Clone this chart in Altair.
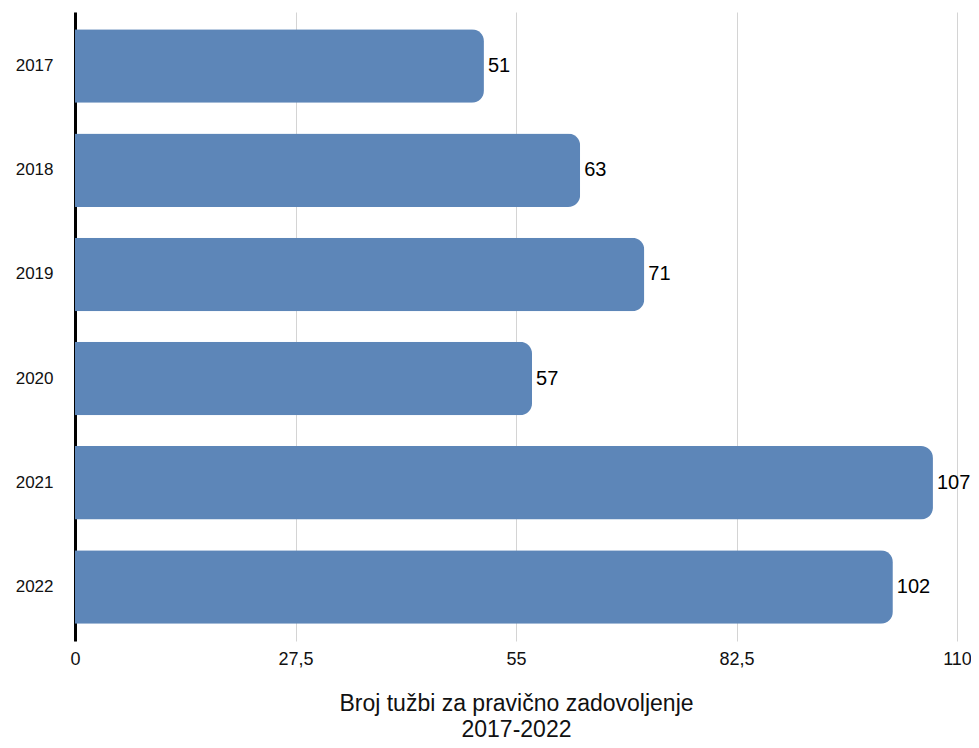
import altair as alt
import pandas as pd

years = ["2017", "2018", "2019", "2020", "2021", "2022"]
counts = [51, 63, 71, 57, 107, 102]
x_ticks = [0, 27.5, 55, 82.5, 110]

df = pd.DataFrame({"year": years, "count": counts})

FONT = "Liberation Sans"

base = alt.Chart(df).encode(
    y=alt.Y(
        "year:N",
        sort=years,
        scale=alt.Scale(paddingInner=0.295, paddingOuter=0.166),
        axis=alt.Axis(
            title=None,
            domain=True,
            domainColor="#000000",
            domainWidth=3,
            ticks=False,
            grid=False,
            labelFontSize=17,
            labelColor="#111111",
            labelFont=FONT,
            labelPadding=22,
        ),
    ),
    x=alt.X(
        "count:Q",
        scale=alt.Scale(domain=[0, 110], nice=False),
        axis=alt.Axis(
            title=["Broj tužbi za pravično zadovoljenje", "2017-2022"],
            titleFontSize=23,
            titleFontWeight="normal",
            titleFont=FONT,
            titleColor="#111111",
            titleLineHeight=26,
            titlePadding=24,
            values=x_ticks,
            labelExpr="replace(toString(datum.value), '.', ',')",
            labelFlush=False,
            labelFontSize=18,
            labelFont=FONT,
            labelColor="#111111",
            labelPadding=9,
            domain=False,
            ticks=False,
            grid=True,
            gridColor="#d4d4d4",
            gridWidth=1,
        ),
    ),
)

bars = base.mark_bar(
    color="#5d86b8",
    cornerRadiusTopRight=12,
    cornerRadiusBottomRight=12,
)

labels = base.mark_text(
    align="left", baseline="middle", dx=4, fontSize=20, font=FONT, color="#000000"
).encode(text="count:Q")

chart = (
    alt.layer(bars, labels)
    .properties(
        width=882,
        height=629,
        autosize=alt.AutoSizeParams(type="none"),
        padding={"left": 67, "top": 4, "right": 14, "bottom": 106},
    )
    .configure_view(stroke=None)
)

chart.save("out.html", embed_options={"renderer": "svg", "actions": False})
